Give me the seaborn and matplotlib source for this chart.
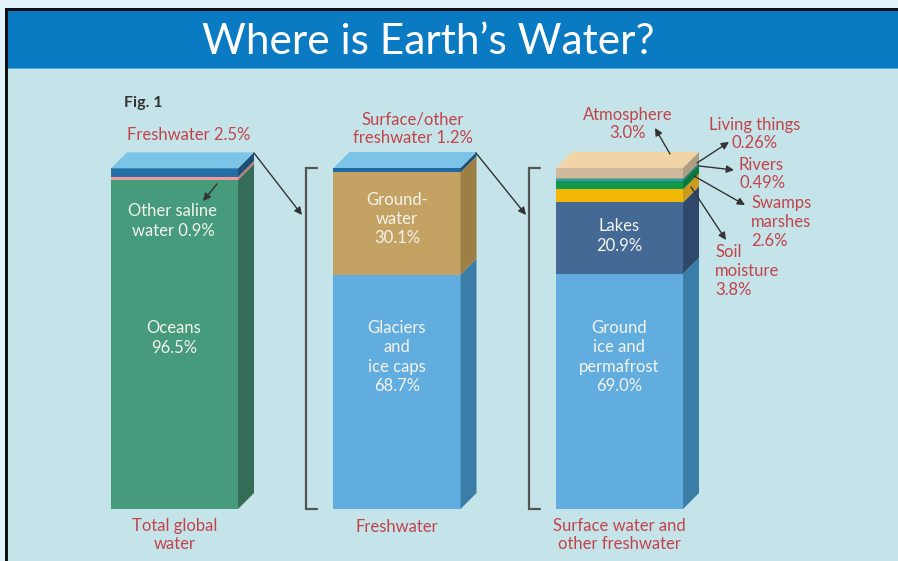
import matplotlib
matplotlib.use("Agg")
import matplotlib.pyplot as plt
from matplotlib.patches import Polygon, Rectangle
import numpy as np
import pandas as pd
import seaborn as sns

# ---------------- data ----------------
categories = ["Total global water", "Freshwater", "Surface water and other freshwater"]

bar1_layers = ["Oceans", "Other saline water", "Freshwater"]
bar1_values = [96.5, 0.9, 2.5]

bar2_layers = ["Glaciers and ice caps", "Groundwater", "Surface/other freshwater"]
bar2_values = [68.7, 30.1, 1.2]

bar3_layers = ["Ground ice and permafrost", "Lakes", "Soil moisture", "Swamps marshes",
               "Rivers", "Living things", "Atmosphere"]
bar3_values = [69.0, 20.9, 3.8, 2.6, 0.49, 0.26, 3.0]

bottom_labels = ["Total global\nwater", "Freshwater", "Surface water and\nother freshwater"]

# ---------------- style ----------------
front_colors = [
    ["#459b7b", "#f29a9d", "#2270a6"],
    ["#62addf", "#c3a263", "#1f6aa0"],
    ["#62addf", "#456995", "#f3b805", "#10994a", "#3b8fd0", "#7ab648", "#cfb89b"],
]
side_colors = [
    ["#346c57", "#c5787c", "#1b4f73"],
    ["#3a7ea7", "#9d7e45", "#1b4e74"],
    ["#3a7ea7", "#2d4868", "#cc9a1e", "#0d7a3c", "#2a6a9e", "#5a8f35", "#b09c7e"],
]
top_colors = ["#7cc3e8", "#7cc3e8", "#f2d5a6"]

BG = "#c5e4ea"
RED = "#c1444a"
WHITE_TXT = "#f4f4ec"
FS = 12

sns.set_theme(style="white")
plt.rcParams["font.family"] = ["Lato", "DejaVu Sans"]

W, H = 898, 561
fig = plt.figure(figsize=(W / 100, H / 100), dpi=100, facecolor=BG)

# bar axes covering the whole figure
ax = fig.add_axes([0, 0, 1, 1])
ax.set_facecolor("none")

bar_width = 0.571
all_values = [bar1_values, bar2_values, bar3_values]
for i, (cat, vals) in enumerate(zip(categories, all_values)):
    cums = np.cumsum(vals)
    for j in range(len(vals) - 1, -1, -1):
        df = pd.DataFrame({"cat": [cat], "val": [cums[j]]})
        sns.barplot(data=df, x="cat", y="val", order=categories, color=front_colors[i][j],
                    saturation=1, width=bar_width, errorbar=None, linewidth=0, ax=ax)

# scales: pixel -> data
ax.set_xlim(-174.5 / 222.5, (W - 174.5) / 222.5)
ax.set_ylim(-(H - 509) / 3.41, 509 / 3.41)
ax.axis("off")
fig.canvas.draw()
p0 = ax.transData.transform((0, 0))
p1 = ax.transData.transform((1, 1))
depth_px = 16
dx = depth_px / (p1[0] - p0[0])
dy = depth_px / (p1[1] - p0[1])

for i, vals in enumerate(all_values):
    cums = np.concatenate([[0], np.cumsum(vals)])
    xl, xr = i - bar_width / 2, i + bar_width / 2
    for j in range(len(vals)):
        b, t = cums[j], cums[j + 1]
        ax.add_patch(Polygon([(xr, b), (xr + dx, b + dy), (xr + dx, t + dy), (xr, t)],
                             closed=True, facecolor=side_colors[i][j], edgecolor="none", zorder=3))
    top = cums[-1]
    ax.add_patch(Polygon([(xl, top), (xr, top), (xr + dx, top + dy), (xl + dx, top + dy)],
                         closed=True, facecolor=top_colors[i], edgecolor="none", zorder=3))
    # brackets for the 2nd and 3rd bars
    if i > 0:
        bx = xl - 27 / (p1[0] - p0[0])
        tx = xl - 16 / (p1[0] - p0[0])
        ax.plot([tx, bx, bx, tx], [top, top, 0, 0], color="#555555", lw=1.6, zorder=3,
                solid_joinstyle="miter")

# ---------------- overlay in pixel coordinates ----------------
ov = fig.add_axes([0, 0, 1, 1])
ov.set_xlim(0, W)
ov.set_ylim(H, 0)
ov.axis("off")
ov.patch.set_alpha(0)

# frame / banner
ov.add_patch(Rectangle((0, 0), W, 8, facecolor="#e2f3fb", edgecolor="none"))
ov.add_patch(Rectangle((0, 0), 5, H, facecolor="#e2f3fb", edgecolor="none"))
ov.add_patch(Rectangle((5, 8), W, 3, facecolor="#111111", edgecolor="none"))
ov.add_patch(Rectangle((5, 8), 3, H, facecolor="#111111", edgecolor="none"))
ov.add_patch(Rectangle((8, 11), W, 57, facecolor="#0a7bc2", edgecolor="none"))
ov.add_patch(Rectangle((8, 67.5), W, 1.5, facecolor="#4aa8dc", edgecolor="none"))
ov.text(428, 42, "Where is Earth\u2019s Water?", color="white", fontsize=30.5,
        ha="center", va="center")

ov.text(124, 103, "Fig. 1", color="#333333", fontsize=11.5, fontweight="bold",
        ha="left", va="center")

# top labels
rk = dict(color=RED, fontsize=FS, va="center", linespacing=1.2)
ov.text(189, 135, "Freshwater 2.5%", ha="center", **rk)
ov.text(413, 129, "Surface/other\nfreshwater 1.2%", ha="center", **rk)
ov.text(628, 124, "Atmosphere\n3.0%", ha="center", **rk)
ov.text(755, 134, "Living things\n0.26%", ha="center", **rk)
ov.text(739, 174, "Rivers\n0.49%", ha="left", **rk)
ov.text(751, 222, "Swamps\nmarshes\n2.6%", ha="left", **rk)
ov.text(715, 271, "Soil\nmoisture\n3.8%", ha="left", **rk)

# in-bar labels
kw = dict(color=WHITE_TXT, fontsize=FS, ha="center", va="center", linespacing=1.25)
ov.text(173, 221, "Other saline\nwater 0.9%", **kw)
ov.text(174, 338, "Oceans\n96.5%", **kw)
ov.text(397, 219, "Ground-\nwater\n30.1%", **kw)
ov.text(397, 357, "Glaciers\nand\nice caps\n68.7%", **kw)
ov.text(619, 236, "Lakes\n20.9%", **kw)
ov.text(619, 357, "Ground\nice and\npermafrost\n69.0%", **kw)

# bottom labels
for i, lab in enumerate(bottom_labels):
    xpx = ax.transData.transform((i, 0))[0]
    ov.text(xpx, 535 if "\n" in lab else 527, lab, color=RED, fontsize=FS, ha="center",
            va="center", linespacing=1.2)

# arrows
ap = dict(arrowstyle="-|>", color="#333333", lw=1.0, mutation_scale=11, shrinkA=0, shrinkB=0)
arrows = [
    ((254, 153), (302, 215)),
    ((476, 153), (526, 215)),
    ((217, 184), (203, 201)),
    ((670, 154), (655, 128)),
    ((697, 163), (729, 142)),
    ((699, 166), (734, 170)),
    ((694, 176), (745, 205)),
    ((691, 187), (726, 240)),
]
for start, end in arrows:
    ov.annotate("", xy=end, xytext=start, arrowprops=ap)

fig.savefig("out.png", dpi=100, facecolor=BG)
